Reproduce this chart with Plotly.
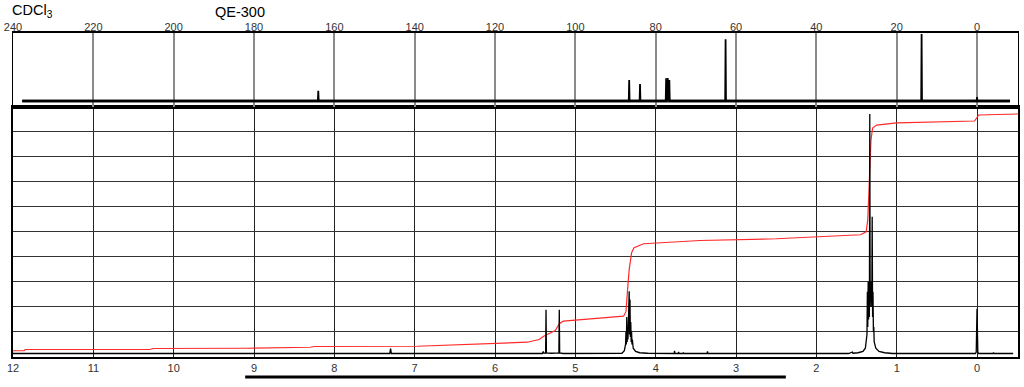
import plotly.graph_objects as go

# ---------------- data ----------------
# 1H spectrum vertices (ppm, intensity in grid units 0-10)
H1_PPM = [12.0, 7.31, 7.30, 7.29,
          5.41, 5.40, 5.39, 5.37, 5.365, 5.36, 5.30, 5.205, 5.20, 5.195, 5.15,
          4.42, 4.39, 4.375, 4.37, 4.365, 4.36, 4.355, 4.35, 4.345, 4.34, 4.335, 4.33,
          4.325, 4.32, 4.315, 4.31, 4.305, 4.30, 4.295, 4.29, 4.28, 4.25, 4.20, 4.10,
          3.77, 3.765, 3.76, 3.72, 3.715, 3.71, 3.66, 3.655, 3.65, 3.36, 3.355, 3.35,
          1.60, 1.55, 1.545, 1.48, 1.42, 1.39, 1.37, 1.365, 1.36, 1.355, 1.35, 1.345,
          1.34, 1.335, 1.33, 1.325, 1.32, 1.315, 1.31, 1.305, 1.30, 1.295, 1.29, 1.285,
          1.28, 1.26, 1.22, 1.15, 1.05,
          0.02, 0.01, 0.0, -0.01, -0.02, -0.20, -0.205, -0.21, -0.45]
H1_INT = [0.14, 0.14, 0.33, 0.14,
          0.14, 0.22, 0.15, 0.16, 1.89, 0.16, 0.15, 0.16, 1.89, 0.16, 0.14,
          0.15, 0.25, 0.5, 1.0, 0.5, 1.6, 0.6, 1.2, 0.7, 2.0, 0.9, 2.62,
          0.9, 2.3, 0.8, 1.4, 0.6, 1.0, 0.5, 0.7, 0.35, 0.22, 0.17, 0.15,
          0.14, 0.25, 0.14, 0.14, 0.2, 0.14, 0.14, 0.18, 0.14, 0.14, 0.22, 0.14,
          0.14, 0.20, 0.15, 0.17, 0.22, 0.35, 0.9, 2.6, 1.2, 3.0, 1.5, 2.8,
          1.6, 9.7, 2.0, 3.0, 2.2, 2.6, 2.0, 5.6, 1.6, 2.6, 1.0, 1.2,
          0.6, 0.35, 0.22, 0.17, 0.14,
          0.14, 0.2, 1.93, 0.2, 0.14, 0.14, 0.18, 0.14, 0.14]

# integral curve vertices
INTEG_PPM = [12.0, 11.86, 11.85, 10.3, 10.25, 9.1, 8.3, 8.25, 6.97, 5.98, 5.6, 5.45,
             5.40, 5.35, 5.25, 5.20, 5.15, 4.40, 4.37, 4.35, 4.33, 4.30, 4.27, 4.15,
             3.45, 2.5, 1.45, 1.38, 1.36, 1.34, 1.32, 1.30, 1.25, 1.0, 0.03, -0.02, -0.51]
INTEG_VAL = [0.25, 0.25, 0.30, 0.30, 0.34, 0.35, 0.39, 0.42, 0.43, 0.53, 0.59, 0.70,
             0.82, 0.90, 1.06, 1.33, 1.43, 1.63, 1.81, 2.69, 3.49, 4.16, 4.36, 4.52,
             4.65, 4.72, 4.88, 5.0, 5.48, 7.07, 8.67, 9.14, 9.26, 9.35, 9.42, 9.66, 9.70]

# 13C spectrum vertices (ppm, arbitrary intensity)
C13_PPM = [237.7, 164.1, 164.0, 163.9, 86.7, 86.6, 86.5, 84.0, 83.9, 83.8,
           77.5, 77.4, 77.2, 77.0, 76.8, 76.6, 76.5, 62.7, 62.6, 62.5,
           13.9, 13.8, 13.7, 0.1, 0.0, -0.1, -8.2]
C13_INT = [5.5, 5.5, 15.8, 5.5, 5.5, 26.5, 5.5, 5.5, 22.5, 5.5,
           5.5, 28.2, 6.0, 28.5, 6.0, 26.5, 5.5, 5.5, 67.2, 5.5,
           5.5, 72.5, 5.5, 5.5, 9.5, 5.5, 5.5]
C13_NOISE_PPM = [237.7, -8.2]
C13_NOISE_LEVEL = [5.5, 5.5]

H1_RANGE = [12, -0.51]
C13_RANGE = [240, -10.2]
BAR_PPM = [9.11, 2.38]

# ---------------- figure ----------------
fig = go.Figure()
fig.add_trace(go.Scatter(x=C13_NOISE_PPM, y=C13_NOISE_LEVEL, xaxis="x2", yaxis="y2",
                         mode="lines", line=dict(color="#1a1a1a", width=3),
                         hoverinfo="skip", showlegend=False))
fig.add_trace(go.Scatter(x=C13_PPM, y=C13_INT, xaxis="x2", yaxis="y2",
                         mode="lines", line=dict(color="#000", width=1.8),
                         showlegend=False))
fig.add_trace(go.Scatter(x=INTEG_PPM, y=INTEG_VAL, xaxis="x", yaxis="y",
                         mode="lines", line=dict(color="#ff2a2a", width=1.2),
                         showlegend=False))
fig.add_trace(go.Scatter(x=H1_PPM, y=H1_INT, xaxis="x", yaxis="y",
                         mode="lines", line=dict(color="#000", width=1.3),
                         showlegend=False))

split = (357 - 106.5) / 324.0
tickfont = dict(family="Liberation Sans, Arial, sans-serif", size=11, color="#333")

fig.update_layout(
    width=1024, height=387,
    margin=dict(l=13, r=6, t=33, b=30),
    paper_bgcolor="white", plot_bgcolor="white",
    showlegend=False,
    xaxis=dict(domain=[0, 1], range=H1_RANGE, anchor="y", tick0=0, dtick=1,
               showgrid=True, gridcolor="#222", gridwidth=1,
               showline=True, linecolor="black", linewidth=2, mirror=True,
               ticks="", zeroline=False, tickfont=tickfont, automargin=False),
    yaxis=dict(domain=[0, split], range=[0, 10], dtick=1, tick0=0,
               showgrid=True, gridcolor="#333", gridwidth=1.3,
               showticklabels=False, showline=True, linecolor="black",
               linewidth=2, mirror=True, zeroline=False, ticks="", automargin=False),
    xaxis2=dict(domain=[0, 1], range=C13_RANGE, anchor="y2", side="top",
                tick0=0, dtick=20, showgrid=True, gridcolor="#8a8a8a", gridwidth=1.5,
                showline=True, linecolor="black", linewidth=2, mirror=True,
                ticks="", zeroline=False, tickfont=tickfont, automargin=False,
                ticklabelstandoff=-4),
    yaxis2=dict(domain=[split, 1], range=[0, 73.5], showgrid=False,
                showticklabels=False, showline=True, linecolor="black",
                linewidth=1, mirror=True, zeroline=False, ticks="", automargin=False),
    shapes=[dict(type="line", xref="x", yref="paper", x0=BAR_PPM[0], x1=BAR_PPM[1],
                 y0=-0.062, y1=-0.062, line=dict(color="black", width=3))],
    annotations=[
        dict(text="CDCl<sub>3</sub>", xref="paper", yref="paper", x=0, y=1,
             xanchor="left", yanchor="bottom", xshift=-2, yshift=12, showarrow=False,
             borderpad=0,
             font=dict(family="Liberation Sans, Arial, sans-serif", size=14.5, color="black")),
        dict(text="QE-300", xref="paper", yref="paper", x=(216 - 13) / 1005, y=1,
             xanchor="left", yanchor="bottom", xshift=-2, yshift=12, showarrow=False,
             borderpad=0,
             font=dict(family="Liberation Sans, Arial, sans-serif", size=14.5, color="black")),
    ],
)

fig.write_html("out.html", config={"displayModeBar": False})

# remove the default browser page margin so the figure sits at the top-left corner
with open("out.html", "r", encoding="utf-8") as f:
    html = f.read()
html = html.replace("<body>", '<body style="margin:0;padding:0;">', 1)
with open("out.html", "w", encoding="utf-8") as f:
    f.write(html)
